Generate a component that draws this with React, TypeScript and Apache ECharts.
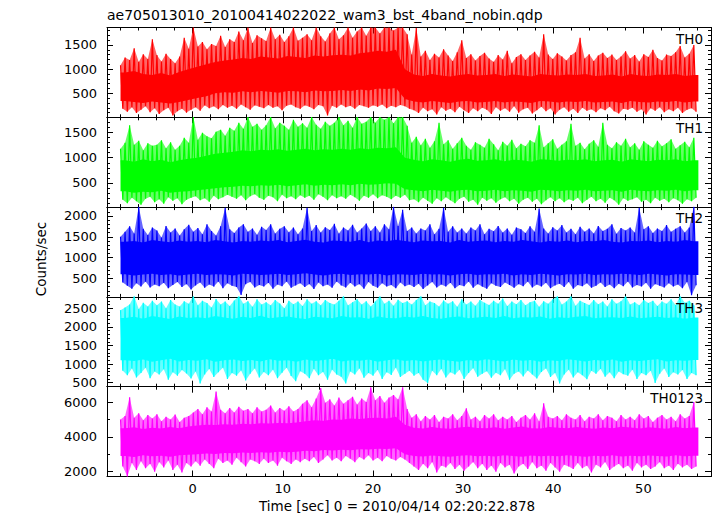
import React, { useEffect, useRef } from "react";
import * as echarts from "echarts";

const TITLE = "ae705013010_20100414022022_wam3_bst_4band_nobin.qdp";
const X_TITLE = "Time [sec] 0 = 2010/04/14 02:20:22.878";
const Y_TITLE = "Counts/sec";
const PANEL_NAMES = ["TH0", "TH1", "TH2", "TH3", "TH0123"];
const COLORS = ["#ff0000", "#00ff00", "#0000ff", "#00ffff", "#ff00ff"];

const T_START = -8.0;
const T_END = 56.1;
const X_MIN = -9.5;
const X_MAX = 57.5;
const X_MAJOR = 10;
const X_MINOR = 2;

const Y_MIN = [3, 14, 52, 392, 1725];
const Y_MAX = [1862, 1808, 2214, 2806, 6878];
const Y_MAJOR = [500, 500, 500, 500, 2000];
const Y_MINOR = [100, 100, 100, 100, 1000];

// spike extremes, 0.5 s bins (127 bins)
const TH0_HI = [
  1080, 1240, 1190, 1430, 1150, 1310, 1210, 1620,
  1290, 1160, 1320, 1210, 1120, 1260, 1650, 1420,
  1860, 1470, 1560, 1410, 1520, 1480, 1690, 1460,
  1620, 1560, 1780, 1600, 1860, 1540, 1700, 1640,
  1580, 1860, 1620, 1710, 1560, 1680, 1860, 1590,
  1650, 1720, 1600, 1860, 1680, 1570, 1740, 1860,
  1620, 1700, 1860, 1650, 1780, 1860, 1690, 1860,
  1860, 1740, 1860, 1860, 1800, 1860, 1860, 1720,
  1300, 1850, 1260, 1380, 1190, 1320, 1240, 1410,
  1280, 1170, 1350, 1600, 1230, 1310, 1180, 1270,
  1340, 1220, 1150, 1290, 1200, 1380, 1120, 1250,
  1310, 1190, 1280, 1360, 1240, 1720, 1300, 1210,
  1330, 1260, 1180, 1290, 1350, 1650, 1220, 1310,
  1170, 1280, 1340, 1230, 1300, 1190, 1260, 1370,
  1220, 1290, 1160, 1310, 1250, 1400, 1230, 1180,
  1300, 1270, 1350, 1480, 1240, 1320, 1500,
];
const TH0_LO = [
  180, 120, 210, 90, 160, 230, 110, 190,
  70, 150, 200, 40, 130, 180, 100, 160,
  210, 140, 250, 190, 230, 170, 260, 200,
  240, 180, 270, 210, 160, 250, 220, 190,
  260, 200, 230, 150, 240, 270, 210, 180,
  250, 220, 170, 260, 230, 40, 240, 200,
  270, 210, 240, 180, 260, 230, 200, 250,
  220, 270, 190, 240, 210, 260, 230, 180,
  150, 90, 200, 130, 170, 60, 210, 140,
  180, 110, 220, 150, 90, 190, 130, 200,
  160, 70, 210, 140, 190, 120, 230, 100,
  170, 200, 80, 150, 220, 130, 190, 60,
  160, 210, 120, 180, 90, 200, 140, 170,
  110, 190, 150, 220, 130, 80, 180, 160,
  200, 120, 170, 60, 190, 140, 210, 110,
  170, 130, 200, 90, 160, 190, 120,
];
const TH1_HI = [
  1180, 1300, 1650, 1260, 1340, 1150, 1290, 1240,
  1260, 1350, 1190, 1310, 1160, 1240, 1400, 1300,
  1814, 1360, 1500, 1430, 1390, 1520, 1560, 1440,
  1600, 1540, 1700, 1580, 1814, 1620, 1680, 1560,
  1650, 1814, 1590, 1700, 1640, 1560, 1760, 1620,
  1690, 1600, 1814, 1660, 1580, 1720, 1640, 1700,
  1814, 1650, 1740, 1600, 1814, 1680, 1720, 1814,
  1700, 1814, 1760, 1814, 1690, 1814, 1814, 1640,
  1300, 1420, 1250, 1380, 1200, 1330, 1700, 1270,
  1350, 1180, 1290, 1400, 1240, 1160, 1310, 1260,
  1200, 1380, 1270, 1150, 1320, 1240, 1360, 1190,
  1280, 1230, 1350, 1300, 1650, 1210, 1290, 1370,
  1180, 1260, 1330, 1680, 1240, 1300, 1170, 1280,
  1350, 1220, 1700, 1260, 1190, 1310, 1240, 1380,
  1210, 1290, 1160, 1330, 1260, 1200, 1340, 1230,
  1290, 1370, 1180, 1250, 1320, 1210, 1400,
];
const TH1_LO = [
  160, 90, 200, 130, 60, 180, 220, 110,
  170, 80, 210, 140, 190, 70, 160, 200,
  230, 150, 190, 120, 240, 170, 210, 260,
  220, 180, 250, 150, 230, 270, 200, 160,
  240, 210, 130, 260, 190, 230, 170, 250,
  200, 240, 160, 270, 220, 150, 250, 190,
  230, 180, 260, 210, 140, 240, 200, 270,
  190, 250, 220, 170, 240, 200, 260, 150,
  170, 110, 200, 140, 80, 190, 130, 210,
  150, 90, 180, 220, 120, 160, 60, 200,
  140, 190, 100, 170, 210, 130, 180, 80,
  160, 200, 120, 180, 70, 150, 210, 130,
  190, 110, 170, 140, 200, 90, 160, 220,
  130, 180, 100, 200, 150, 60, 190, 140,
  170, 210, 120, 160, 90, 200, 140, 180,
  110, 190, 150, 80, 170, 130, 200,
];
const TH2_HI = [
  1500, 1620, 1750, 1580, 2224, 1690, 1540, 1720,
  1650, 1480, 1760, 1600, 1700, 1530, 1680, 1790,
  1620, 1710, 1560, 1800, 1640, 1530, 1750, 2200,
  1680, 1590, 1720, 1800, 1620, 1700, 1550, 1740,
  1660, 1800, 1580, 1690, 1750, 1610, 1720, 1560,
  1700, 2200, 1640, 1780, 1600, 1730, 1660, 1810,
  1580, 1720, 1650, 1790, 1600, 1700, 1820, 1640,
  1750, 1600, 1800, 1680, 2224, 1760, 2150, 1640,
  1720, 1580, 1700, 1650, 1800, 1560, 1690, 2200,
  1620, 1750, 1600, 1700, 1580, 1720, 1650, 1800,
  1560, 1690, 1630, 1760, 1600, 1700, 1550, 1720,
  1680, 1590, 1750, 1620, 2180, 1700, 1580, 1730,
  1650, 1780, 1600, 1690, 1560, 1740, 1620, 1700,
  1580, 1760, 1640, 1690, 1800, 1570, 1710, 1650,
  1720, 1600, 2200, 1680, 1750, 1590, 1700, 1640,
  1780, 1620, 1690, 1750, 1600, 1720, 2224,
];
const TH2_LO = [
  400, 320, 250, 380, 300, 420, 280, 350,
  310, 390, 260, 340, 410, 290, 360, 230,
  330, 400, 270, 350, 300, 420, 260, 380,
  320, 290, 100, 360, 410, 280, 340, 300,
  390, 250, 350, 310, 420, 270, 330, 380,
  290, 360, 240, 400, 310, 350, 270, 420,
  330, 280, 390, 300, 360, 250, 410, 320,
  270, 380, 300, 340, 260, 400, 310, 350,
  290, 370, 240, 330, 410, 280, 350, 300,
  390, 260, 340, 310, 420, 270, 360, 300,
  250, 380, 320, 290, 400, 340, 270, 360,
  310, 420, 280, 350, 300, 390, 260, 330,
  370, 290, 410, 250, 340, 310, 380, 270,
  320, 400, 290, 350, 260, 370, 310, 420,
  280, 340, 300, 390, 250, 360, 320, 280,
  380, 300, 350, 260, 410, 90, 330,
];
const TH3_HI = [
  2450, 2520, 2600, 2831, 2480, 2650, 2550, 2700,
  2580, 2680, 2500, 2720, 2600, 2550, 2690, 2620,
  2831, 2580, 2700, 2640, 2520, 2750, 2600, 2680,
  2560, 2710, 2831, 2620, 2690, 2540, 2740, 2600,
  2660, 2580, 2720, 2630, 2500, 2700, 2610, 2680,
  2560, 2740, 2620, 2690, 2580, 2720, 2640, 2600,
  2700, 2831, 2580, 2660, 2740, 2600, 2690, 2550,
  2680, 2831, 2620, 2700, 2570, 2730, 2640, 2690,
  2600, 2720, 2831, 2580, 2680, 2640, 2550, 2710,
  2620, 2690, 2540, 2740, 2600, 2680, 2570, 2720,
  2650, 2590, 2700, 2620, 2760, 2560, 2680, 2610,
  2720, 2580, 2660, 2700, 2540, 2690, 2620, 2740,
  2831, 2600, 2680, 2831, 2570, 2700, 2640, 2590,
  2720, 2610, 2680, 2550, 2740, 2620, 2690, 2831,
  2600, 2660, 2580, 2720, 2640, 2700, 2560, 2680,
  2620, 2740, 2590, 2831, 2650, 2700, 2580,
];
const TH3_LO = [
  820, 700, 880, 640, 760, 900, 620, 800,
  720, 860, 580, 780, 690, 840, 750, 610,
  800, 480, 720, 870, 650, 780, 900, 600,
  760, 690, 830, 560, 740, 880, 640, 790,
  700, 850, 620, 770, 900, 680, 540, 810,
  740, 620, 870, 700, 790, 580, 850, 720,
  660, 480, 800, 720, 880, 630, 760, 690,
  840, 600, 780, 710, 900, 650, 740, 820,
  690, 760, 580, 490, 820, 700, 870, 640,
  780, 720, 850, 600, 760, 890, 660, 740,
  810, 630, 770, 700, 860, 580, 740, 800,
  670, 830, 720, 610, 790, 880, 650, 760,
  480, 720, 850, 640, 780, 700, 590, 820,
  740, 870, 660, 780, 620, 800, 730, 690,
  850, 600, 760, 700, 820, 490, 740, 880,
  650, 780, 720, 840, 600, 760, 700,
];
const TH0123_HI = [
  5000, 5200, 6270, 5100, 5350, 4950, 5250, 5050,
  5300, 4900, 5150, 5000, 5280, 4850, 5100, 5200,
  5400, 5600, 5300, 5700, 5450, 6600, 5550, 5350,
  5650, 5400, 5730, 5500, 5600, 5350, 5700, 5450,
  5550, 5800, 5400, 5650, 5500, 5750, 5450, 5600,
  5900, 6100, 5700, 6200, 6800, 5950, 6150, 5800,
  6250, 5900, 6100, 6300, 5850, 6200, 6000, 6850,
  6100, 6350, 5950, 6250, 6400, 6150, 6850, 5600,
  5100, 5300, 4900, 5200, 5000, 5250, 4850, 5150,
  5050, 5300, 4950, 5200, 5640, 5000, 5150, 4900,
  5250, 5050, 5300, 4950, 5150, 5000, 5200, 4850,
  5100, 5250, 5000, 5350, 4900, 5920, 5150, 5050,
  5200, 4950, 5300, 5100, 5000, 5250, 4900, 5150,
  5050, 5300, 4950, 5200, 5100, 4900, 5250, 5000,
  5150, 4950, 5300, 5050, 5200, 4850, 5100, 5250,
  5000, 5150, 4900, 5300, 5050, 5200, 6000,
];
const TH0123_LO = [
  2300, 1720, 2500, 2100, 2600, 2200, 2450, 2000,
  2550, 2250, 2650, 2100, 2400, 1950, 2500, 2300,
  2600, 2350, 2700, 2450, 2200, 2750, 2500, 2650,
  2400, 2800, 2550, 2300, 2700, 2600, 2450, 2750,
  2500, 2650, 2350, 2800, 2600, 2450, 2700, 2550,
  2750, 2600, 2850, 2500, 2700, 2950, 2650, 2800,
  2600, 2900, 2750, 2550, 2850, 2700, 2950, 2650,
  2800, 2600, 2900, 2750, 2650, 2850, 2700, 2500,
  2300, 2100, 2450, 2200, 2550, 1950, 2350, 2250,
  2500, 2150, 2400, 2050, 2300, 2550, 2200, 2450,
  2100, 2350, 2000, 2500, 2250, 2400, 1900, 2300,
  2450, 2150, 2550, 2200, 2350, 2050, 2500, 2250,
  2000, 2400, 2300, 2150, 2500, 2200, 2350, 1950,
  2400, 2250, 2550, 2100, 2300, 2450, 2200, 2350,
  2050, 2500, 2250, 2400, 2150, 2300, 2550, 2200,
  2350, 2100, 2450, 2250, 2400, 2150, 2300,
];

// dense core band, 1 s bins (64 bins)
const TH0_CORE_LO = [
  340, 320, 300, 330, 310, 290, 320, 360,
  400, 440, 500, 520, 510, 540, 520, 550,
  530, 510, 550, 540, 520, 560, 540, 550,
  570, 550, 580, 560, 600, 590, 610, 380,
  330, 310, 340, 320, 300, 330, 340, 310,
  320, 340, 310, 330, 320, 300, 340, 330,
  310, 330, 320, 340, 310, 320, 330, 300,
  340, 320, 310, 330, 320, 340, 310, 330,
];
const TH0_CORE_HI = [
  930, 960, 900, 880, 920, 870, 940, 1000,
  1050, 1100, 1150, 1180, 1200, 1230, 1210, 1260,
  1240, 1220, 1270, 1250, 1230, 1280, 1260, 1290,
  1300, 1280, 1330, 1350, 1380, 1360, 1400, 1000,
  890, 860, 900, 870, 850, 880, 900, 870,
  880, 900, 860, 890, 870, 850, 900, 880,
  870, 890, 880, 900, 860, 870, 890, 850,
  900, 870, 860, 890, 880, 900, 860, 880,
];
const TH1_CORE_LO = [
  330, 300, 320, 310, 340, 300, 320, 330,
  350, 370, 390, 410, 420, 440, 430, 450,
  440, 460, 430, 450, 470, 440, 460, 450,
  470, 450, 480, 460, 470, 490, 480, 370,
  350, 330, 360, 340, 320, 350, 360, 330,
  340, 360, 330, 350, 340, 320, 360, 350,
  330, 350, 340, 360, 330, 340, 350, 320,
  360, 340, 330, 350, 340, 360, 330, 350,
];
const TH1_CORE_HI = [
  950, 920, 970, 930, 960, 910, 950, 980,
  1000, 1040, 1080, 1100, 1120, 1150, 1130, 1160,
  1150, 1170, 1140, 1160, 1180, 1150, 1170, 1160,
  1180, 1160, 1190, 1170, 1200, 1190, 1210, 1000,
  960, 930, 970, 950, 920, 960, 980, 940,
  950, 970, 930, 960, 950, 920, 970, 960,
  940, 960, 950, 970, 930, 950, 960, 920,
  970, 950, 930, 960, 950, 970, 930, 950,
];
const TH2_CORE_LO = [
  600, 570, 590, 610, 580, 600, 570, 590,
  610, 580, 600, 590, 570, 610, 600, 580,
  590, 610, 580, 600, 620, 590, 570, 600,
  610, 580, 600, 590, 610, 570, 600, 590,
  580, 610, 590, 600, 570, 600, 610, 580,
  600, 590, 610, 570, 600, 580, 610, 590,
  570, 600, 590, 610, 580, 600, 590, 610,
  600, 580, 610, 590, 570, 600, 590, 580,
];
const TH2_CORE_HI = [
  1380, 1400, 1360, 1420, 1390, 1370, 1410, 1380,
  1400, 1370, 1420, 1390, 1360, 1400, 1380, 1410,
  1390, 1420, 1370, 1400, 1430, 1380, 1360, 1410,
  1400, 1380, 1420, 1370, 1410, 1390, 1430, 1400,
  1370, 1410, 1390, 1400, 1360, 1420, 1380, 1400,
  1410, 1370, 1400, 1380, 1420, 1390, 1360, 1400,
  1380, 1410, 1370, 1400, 1390, 1420, 1380, 1360,
  1400, 1390, 1410, 1370, 1400, 1380, 1420, 1390,
];
const TH3_CORE_LO = [
  1100, 1080, 1120, 1060, 1100, 1140, 1070, 1110,
  1090, 1130, 1060, 1100, 1120, 1080, 1110, 1070,
  1130, 1090, 1100, 1060, 1120, 1080, 1110, 1140,
  1070, 1100, 1090, 1120, 1060, 1100, 1130, 1080,
  1110, 1070, 1100, 1120, 1090, 1060, 1110, 1080,
  1130, 1100, 1070, 1120, 1090, 1110, 1060, 1100,
  1080, 1130, 1100, 1070, 1110, 1090, 1120, 1060,
  1100, 1080, 1110, 1130, 1070, 1100, 1090, 1110,
];
const TH3_CORE_HI = [
  2240, 2270, 2220, 2290, 2250, 2210, 2280, 2240,
  2260, 2230, 2290, 2250, 2220, 2270, 2240, 2300,
  2230, 2260, 2280, 2240, 2210, 2270, 2250, 2230,
  2290, 2250, 2260, 2220, 2280, 2240, 2230, 2270,
  2250, 2290, 2240, 2220, 2260, 2280, 2230, 2250,
  2270, 2240, 2290, 2230, 2260, 2250, 2280, 2220,
  2260, 2240, 2270, 2290, 2230, 2250, 2260, 2240,
  2280, 2230, 2250, 2270, 2240, 2260, 2220, 2250,
];
const TH0123_CORE_LO = [
  2900, 2850, 2950, 2880, 2920, 2860, 2940, 2980,
  3000, 3050, 3020, 3080, 3060, 3100, 3070, 3120,
  3090, 3140, 3110, 3150, 3200, 3180, 3240, 3220,
  3260, 3230, 3290, 3270, 3320, 3300, 3350, 3000,
  2900, 2870, 2930, 2890, 2860, 2920, 2940, 2880,
  2910, 2870, 2950, 2900, 2860, 2930, 2890, 2920,
  2880, 2940, 2900, 2860, 2920, 2890, 2950, 2870,
  2910, 2880, 2930, 2900, 2870, 2940, 2890, 2910,
];
const TH0123_CORE_HI = [
  4500, 4550, 4450, 4520, 4480, 4560, 4500, 4600,
  4650, 4700, 4680, 4720, 4690, 4750, 4730, 4780,
  4760, 4800, 4780, 4820, 4900, 4950, 4920, 5000,
  4980, 5050, 5020, 5080, 5100, 5060, 5150, 4700,
  4520, 4480, 4560, 4500, 4470, 4540, 4580, 4510,
  4490, 4550, 4470, 4530, 4600, 4500, 4480, 4560,
  4520, 4490, 4570, 4510, 4460, 4540, 4500, 4580,
  4530, 4480, 4550, 4510, 4470, 4560, 4500, 4540,
];

const SPIKE_HI = [TH0_HI, TH1_HI, TH2_HI, TH3_HI, TH0123_HI];
const SPIKE_LO = [TH0_LO, TH1_LO, TH2_LO, TH3_LO, TH0123_LO];
const CORE_LO = [TH0_CORE_LO, TH1_CORE_LO, TH2_CORE_LO, TH3_CORE_LO, TH0123_CORE_LO];
const CORE_HI = [TH0_CORE_HI, TH1_CORE_HI, TH2_CORE_HI, TH3_CORE_HI, TH0123_CORE_HI];

const FONT = "DejaVu Sans";
const GRID_LEFT = 107;
const GRID_WIDTH = 604;
const GRID_TOP = 27.5;
const PANEL_H = 89.8;

function polygonSeries(g: number, top: number[][], bottom: number[][], fill: string, opacity: number, z: number) {
  return {
    type: "custom",
    xAxisIndex: 4 * g,
    yAxisIndex: 4 * g,
    clip: true,
    silent: true,
    z,
    data: [[top[0][0], top[0][1]]],
    encode: { x: 0, y: 1 },
    renderItem: (params: any, api: any) => {
      const pts: number[][] = [];
      top.forEach((p) => pts.push(api.coord(p)));
      for (let i = bottom.length - 1; i >= 0; i--) pts.push(api.coord(bottom[i]));
      return {
        type: "polygon",
        shape: { points: pts },
        style: { fill, opacity },
      };
    },
  };
}

function buildOption() {
  const grids: any[] = [];
  const xAxes: any[] = [];
  const yAxes: any[] = [];
  const series: any[] = [];
  const graphics: any[] = [];
  const fmt = (v: number) => String(v);

  for (let g = 0; g < 5; g++) {
    const top = GRID_TOP + g * PANEL_H;
    grids.push({ left: GRID_LEFT, top, width: GRID_WIDTH, height: PANEL_H });

    const mkX = (pos: string, major: boolean) => ({
      type: "value",
      gridIndex: g,
      position: pos,
      min: X_MIN,
      max: X_MAX,
      minInterval: major ? X_MAJOR : X_MINOR,
      maxInterval: major ? X_MAJOR : X_MINOR,
      splitNumber: major ? 6 : 30,
      axisLine: { show: major, onZero: false, lineStyle: { color: "#000", width: 1 } },
      axisTick: { show: true, inside: true, length: major ? 6 : 3, lineStyle: { color: "#000", width: 1 } },
      axisLabel: {
        show: major && pos === "bottom" && g === 4,
        showMinLabel: false,
        showMaxLabel: false,
        formatter: fmt,
        margin: 5,
        color: "#000",
        fontSize: 13,
        fontFamily: FONT,
      },
      splitLine: { show: false },
    });
    xAxes.push(mkX("bottom", true), mkX("bottom", false), mkX("top", true), mkX("top", false));

    const mkY = (pos: string, major: boolean) => ({
      type: "value",
      gridIndex: g,
      position: pos,
      min: Y_MIN[g],
      max: Y_MAX[g],
      minInterval: major ? Y_MAJOR[g] : Y_MINOR[g],
      maxInterval: major ? Y_MAJOR[g] : Y_MINOR[g],
      splitNumber: major ? 4 : 20,
      axisLine: { show: major, onZero: false, lineStyle: { color: "#000", width: 1 } },
      axisTick: { show: true, inside: true, length: major ? 6 : 3, lineStyle: { color: "#000", width: 1 } },
      axisLabel: {
        show: major && pos === "left",
        showMinLabel: false,
        showMaxLabel: false,
        formatter: fmt,
        margin: 10,
        color: "#000",
        fontSize: 13,
        fontFamily: FONT,
      },
      splitLine: { show: false },
    });
    yAxes.push(mkY("left", true), mkY("left", false), mkY("right", true), mkY("right", false));

    const color = COLORS[g];

    // envelope of spikes (tinted)
    const hi = SPIKE_HI[g];
    const lo = SPIKE_LO[g];
    const w = (T_END - T_START) / hi.length;
    const envTop = hi.map((h, i) => [T_START + i * w, h]);
    const envBot = lo.map((l, i) => [T_START + i * w + w / 2, l]);
    series.push(polygonSeries(g, envTop, envBot, color, 0.6, 1));

    // dense core band
    const cLo = CORE_LO[g];
    const cHi = CORE_HI[g];
    const cw = (T_END - T_START) / cLo.length;
    const coreTop = cHi.map((h, k) => [T_START + (k + 0.5) * cw, h]);
    const coreBot = cLo.map((l, k) => [T_START + (k + 0.5) * cw, l]);
    coreTop.unshift([T_START, cHi[0]]);
    coreTop.push([T_END, cHi[cHi.length - 1]]);
    coreBot.unshift([T_START, cLo[0]]);
    coreBot.push([T_END, cLo[cLo.length - 1]]);
    series.push(polygonSeries(g, coreTop, coreBot, color, 1, 2));

    // zig-zag trace between the extremes
    const zig: number[][] = [];
    hi.forEach((h, i) => {
      zig.push([T_START + i * w, h]);
      zig.push([T_START + i * w + w / 2, lo[i]]);
    });
    series.push({
      type: "line",
      xAxisIndex: 4 * g,
      yAxisIndex: 4 * g,
      data: zig,
      symbol: "none",
      showSymbol: false,
      clip: true,
      silent: true,
      z: 3,
      lineStyle: { color, width: 1.2 },
    });

    graphics.push({
      type: "text",
      right: 717 - 703,
      top: top + 4,
      z: 10,
      style: { text: PANEL_NAMES[g], font: `13.5px "${FONT}"`, fill: "#000" },
    });
  }

  graphics.push({
    type: "text",
    left: 107,
    top: 8,
    style: { text: TITLE, font: `14px "${FONT}"`, fill: "#000" },
  });
  graphics.push({
    type: "text",
    x: 397,
    y: 506,
    style: { text: X_TITLE, font: `13.5px "${FONT}"`, fill: "#000", align: "center", verticalAlign: "middle" },
  });
  graphics.push({
    type: "text",
    x: 41,
    y: 259,
    rotation: Math.PI / 2,
    style: { text: Y_TITLE, font: `13.5px "${FONT}"`, fill: "#000", align: "center", verticalAlign: "middle" },
  });

  return {
    animation: false,
    backgroundColor: "#fff",
    grid: grids,
    xAxis: xAxes,
    yAxis: yAxes,
    series,
    graphic: graphics,
  };
}

export default function App() {
  const ref = useRef<HTMLDivElement>(null);
  useEffect(() => {
    if (!ref.current) return;
    const chart = echarts.init(ref.current, undefined, { renderer: "svg" });
    chart.setOption(buildOption() as any);
    return () => chart.dispose();
  }, []);
  return (
    <div
      ref={ref}
      style={{ position: "fixed", left: 0, top: 0, width: 717, height: 516, background: "#fff" }}
    />
  );
}
